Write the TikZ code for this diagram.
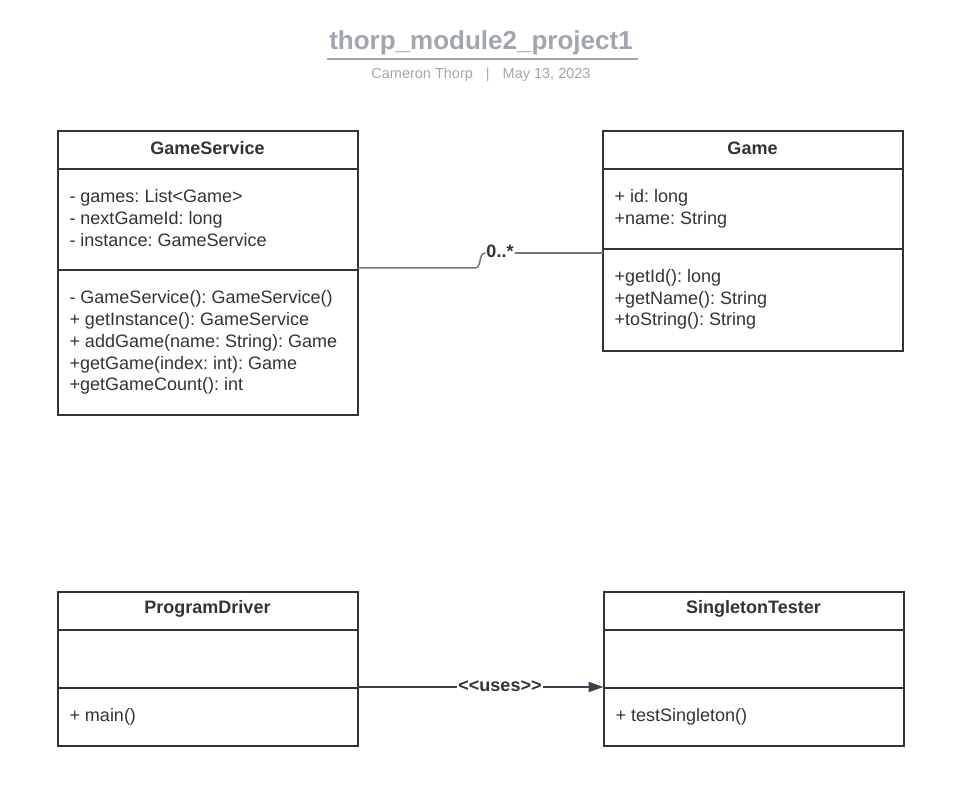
\documentclass[tikz,border=0pt]{standalone}
\usepackage{fontspec}
\setmainfont{Liberation Sans}
\usetikzlibrary{arrows.meta}
\definecolor{umldark}{RGB}{51,51,51}
\definecolor{linkgrey}{RGB}{112,118,128}
\definecolor{linkdark}{RGB}{58,65,74}
\definecolor{titlegrey}{RGB}{161,165,173}

\begin{document}
\frenchspacing
\begin{tikzpicture}[x=1pt,y=-1pt,line width=2pt]
            \tikzstyle{every node}=[font=\fontsize{18}{21}\selectfont, text=umldark, inner sep=0pt]
            \tikzstyle{classbox}=[draw=umldark, anchor=north west, outer sep=0pt, minimum width=300pt]
            \tikzstyle{head}=[font=\fontsize{18}{21}\selectfont\bfseries]
            \tikzstyle{member}=[anchor=base west]
            \useasboundingbox (0,0) rectangle (966,791);

            % title
            \node[font=\fontsize{26}{30}\selectfont\bfseries, text=titlegrey] (title) at (481,42.5) {thorp\_module2\_project1};
            \draw[titlegrey] (327,59) -- (638,59);
            \node[font=\fontsize{14.5}{17}\selectfont, text=titlegrey] (byline) at (481,74.5) {Cameron Thorp\hspace{13pt}|\hspace{13pt}May 13, 2023};

            % class boxes
            \node[classbox, minimum height=283.5pt] (gs) at (57.5,131.5) {};
            \node[classbox, minimum height=219.5pt] (game) at (602.5,131.5) {};
            \node[classbox, minimum height=154.5pt] (pd) at (57.5,591.5) {};
            \node[classbox, minimum height=154.5pt] (st) at (603.5,591.5) {};
            \draw[umldark] (57.5,169.5) -- ++(300,0);
            \draw[umldark] (57.5,270.5) -- ++(300,0);
            \draw[umldark] (602.5,169.5) -- ++(300,0);
            \draw[umldark] (602.5,249) -- ++(300,0);
            \draw[umldark] (57.5,629.5) -- ++(300,0);
            \draw[umldark] (57.5,687.5) -- ++(300,0);
            \draw[umldark] (603.5,629.5) -- ++(300,0);
            \draw[umldark] (603.5,687.5) -- ++(300,0);

            % GameService
            \node[head] (gsname) at (207.5,148.5) {GameService};
            \node[member] (gsa1) at (68.5,203) {- games: List<Game>};
            \node[member] (gsa2) at (68.5,224.7) {- nextGameId: long};
            \node[member] (gsa3) at (68.5,246.4) {- instance: GameService};
            \node[member] (gsm1) at (68.5,304) {- GameService(): GameService()};
            \node[member] (gsm2) at (68.5,325.7) {+ getInstance(): GameService};
            \node[member] (gsm3) at (68.5,347.4) {+ addGame(name: String): Game};
            \node[member] (gsm4) at (68.5,369.1) {+getGame(index: int): Game};
            \node[member] (gsm5) at (68.5,390.8) {+getGameCount(): int};

            % Game
            \node[head] (gamename) at (752.5,148.5) {Game};
            \node[member] (ga1) at (613.5,203) {+ id: long};
            \node[member] (ga2) at (613.5,224.7) {+name: String};
            \node[member] (gm1) at (613.5,282.5) {+getId(): long};
            \node[member] (gm2) at (613.5,304.2) {+getName(): String};
            \node[member] (gm3) at (613.5,325.9) {+toString(): String};

            % ProgramDriver and SingletonTester
            \node[head] (pdname) at (207.5,608.5) {ProgramDriver};
            \node[member] (pdm1) at (68.5,721) {+ main()};
            \node[head] (stname) at (753.5,608.5) {SingletonTester};
            \node[member] (stm1) at (614.5,721) {+ testSingleton()};

            % connectors
            \coordinate (gsout) at (357.5,268);
            \coordinate (gamein) at (602.5,253);
            \node[head] (mult) at (500,251.5) {0..*};
            \draw[linkgrey, line width=1.5pt] (gsout) -- (475,268) .. controls (482,268) and (478,253) .. (mult.west |- gamein);
            \draw[linkgrey, line width=1.5pt] (mult.east |- gamein) -- (gamein);

            \coordinate (pdout) at (357.5,687);
            \coordinate (stin) at (603.5,687);
            \draw[linkdark, -{Triangle[length=15pt,width=10pt]}] (pdout) -- (stin);
            \node[head, fill=white, inner xsep=1pt] (uses) at (500,686.5) {{<}{<}uses{>}{>}};
          \end{tikzpicture}
\end{document}
